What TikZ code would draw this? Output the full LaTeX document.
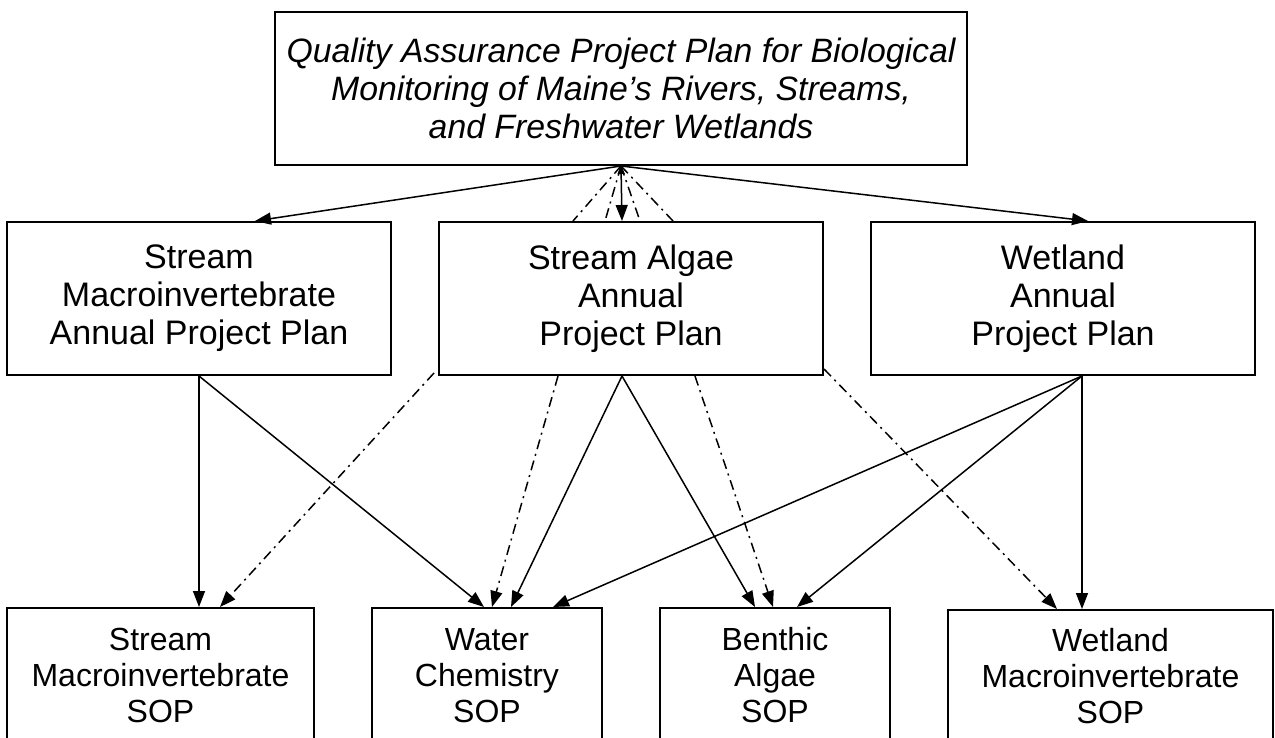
\documentclass[tikz,border=0pt]{standalone}
\usepackage{fontspec}
\setmainfont{Liberation Sans}
\usetikzlibrary{arrows.meta,calc}
\begin{document}
\begin{tikzpicture}[x=1pt,y=-1pt,
  box/.style={draw, line width=2pt, align=center, inner sep=0pt},
  midfont/.style={font=\fontsize{34}{38}\selectfont},
  botfont/.style={font=\fontsize{32}{36}\selectfont},
  conn/.style={line width=1.5pt, -{Triangle[length=16pt,width=12pt]}},
  dd/.style={line width=1.5pt, dash pattern=on 10pt off 5pt on 2pt off 5pt},
  ]
\useasboundingbox (0,0) rectangle (1275,738);
\clip (0,0) rectangle (1275,738);
\fill[white] (0,0) rectangle (1275,738);

\node[box, minimum width=692pt, minimum height=153pt, font=\itshape\fontsize{33.8}{38}\selectfont] (T) at (621,88.5)
  {Quality Assurance Project Plan for Biological\\Monitoring of Maine’s Rivers, Streams,\\and Freshwater Wetlands};

\node[box, midfont, minimum width=384pt, minimum height=153pt] (L) at (199,298.5) {Stream\\Macroinvertebrate\\Annual Project Plan};
\node[box, midfont, minimum width=384pt, minimum height=153pt] (M) at (631,298.5) {Stream Algae\\Annual\\Project Plan};
\node[box, midfont, minimum width=384pt, minimum height=153pt] (R) at (1063,298.5) {Wetland\\Annual\\Project Plan};

\node[box, botfont, minimum width=307pt, minimum height=135pt, anchor=north] (B1) at (160.5,607) {Stream\\Macroinvertebrate\\SOP};
\node[box, botfont, minimum width=230pt, minimum height=135pt, anchor=north] (B2) at (487,607) {Water\\Chemistry\\SOP};
\node[box, botfont, minimum width=230pt, minimum height=135pt, anchor=north] (B3) at (775,607) {Benthic\\Algae\\SOP};
\node[box, botfont, minimum width=325pt, minimum height=133pt, anchor=north] (B4) at (1110.5,609) {Wetland\\Macroinvertebrate\\SOP};

% top level
\draw[conn] (T.south) -- ([xshift=56pt]L.north);
\draw[conn] (T.south) -- ([xshift=25pt]R.north);
\draw[dd] (T.south) -- ([xshift=-58pt]M.north);
\draw[dd] (T.south) -- ([xshift=-26pt]M.north);
\draw[dd] (T.south) -- ([xshift=9pt]M.north);
\draw[dd] (T.south) -- ([xshift=42pt]M.north);
\draw[line width=1.5pt, {Triangle[length=8pt,width=7pt]}-{Triangle[length=16pt,width=12pt]}] (T.south) -- ([xshift=-9pt]M.north);

% middle to bottom
\draw[conn] (L.south) -- ([xshift=38.5pt]B1.north);
\draw[conn] (L.south) -- ([xshift=-3pt]B2.north);
\draw[conn,dd] ([xshift=-4pt,yshift=3pt]M.south west) -- ([xshift=59.5pt]B1.north);
\draw[conn,dd] ([xshift=-73pt]M.south) -- ([xshift=5pt]B2.north);
\draw[conn] ([xshift=-9pt]M.south) -- ([xshift=24pt]B2.north);
\draw[conn] ([xshift=-9pt]M.south) -- ([xshift=-20pt]B3.north);
\draw[conn,dd] ([xshift=64pt]M.south) -- ([xshift=-2pt]B3.north);
\draw[conn,dd] ([yshift=7pt]M.south east) -- ([xshift=-53.5pt]B4.north);
\draw[conn] ([xshift=19pt]R.south) -- ([xshift=66pt]B2.north);
\draw[conn] ([xshift=19pt]R.south) -- ([xshift=22pt]B3.north);
\draw[conn] ([xshift=19pt]R.south) -- ([xshift=-28.5pt]B4.north);
\end{tikzpicture}
\end{document}
